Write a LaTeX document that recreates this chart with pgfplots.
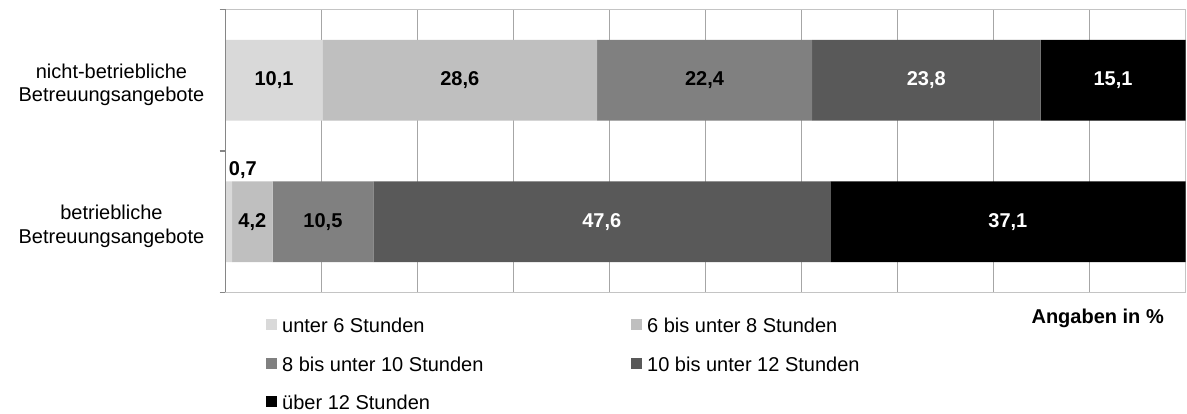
\documentclass[border=0pt]{standalone}
\usepackage{pgfplots}
\usepackage{pgfplotstable}
\pgfplotsset{compat=1.18}
\usepackage{fontspec}
\setmainfont{Liberation Sans}
\definecolor{c1}{HTML}{D9D9D9}
\definecolor{c2}{HTML}{BFBFBF}
\definecolor{c3}{HTML}{808080}
\definecolor{c4}{HTML}{595959}
\definecolor{c5}{HTML}{000000}
\definecolor{cgrid}{HTML}{A6A6A6}
\definecolor{cborder}{HTML}{C4C4C4}
\definecolor{caxis}{HTML}{868686}

% y = 1: nicht-betriebliche, y = 0: betriebliche
\pgfplotstableread{
y v lab dx dy
1 10.1 10,1 0 0
0 0.7 0,7 14 52
}\tA
\pgfplotstableread{
y v lab dx dy
1 28.6 28,6 0 0
0 4.2 4,2 0 0
}\tB
\pgfplotstableread{
y v lab dx dy
1 22.4 22,4 0 0
0 10.5 10,5 0 0
}\tC
\pgfplotstableread{
y v lab dx dy
1 23.8 23,8 0 0
0 47.6 47,6 0 0
}\tD
\pgfplotstableread{
y v lab dx dy
1 15.1 15,1 0 0
0 37.0 37,1 0 0
}\tE

\begin{document}
\begin{tikzpicture}[font=\fontsize{20}{23.7}\selectfont]
\begin{axis}[
  name=ax,
  scale only axis, width=960pt, height=283pt,
  xbar stacked, bar width=0.57,
  xmin=0, xmax=100, ymin=-0.5, ymax=1.5,
  xtick={10,20,...,90}, xticklabels={}, xmajorgrids,
  major grid style={draw=cgrid, line width=1pt},
  ytick={0,1},
  yticklabels={{betriebliche\\Betreuungsangebote},{nicht-betriebliche\\Betreuungsangebote}},
  yticklabel style={align=center, inner sep=0pt, xshift=-21pt, yshift=-4.5pt, font=\fontsize{20}{23.7}\selectfont},
  major tick length=0pt,
  minor ytick={-0.5,0.5,1.5}, minor tick length=6pt, tick align=outside,
  ytick pos=left, xtick pos=bottom,
  minor y tick style={draw=caxis, line width=1.2pt},
  axis line style={draw=cborder, line width=1pt},
  xlabel={Angaben in \%},
  xlabel style={at={(rel axis cs:1,0)}, anchor=base east, xshift=-21.5pt, yshift=-31.5pt, inner sep=0pt, font=\fontsize{20}{24}\selectfont\bfseries},
  point meta=explicit symbolic,
  nodes near coords,
  visualization depends on={\thisrow{dx} \as \dx},
  visualization depends on={\thisrow{dy} \as \dy},
  every node near coord/.append style={anchor=center, inner sep=0pt,
    font=\fontsize{20}{24}\selectfont\bfseries,
    xshift=\dx pt, yshift=\dy pt},
  legend columns=2,
  legend style={at={(rel axis cs:0,0)}, anchor=north west, xshift=40.5pt, yshift=-25.2pt,
    draw=none, fill=none, inner sep=0pt, row sep=19.5pt,
    font=\fontsize{20}{24}\selectfont,
    nodes={inner xsep=0pt, inner ysep=0pt, text height=15pt, text depth=4pt},
    /tikz/every odd column/.append style={column sep=5pt},
    cells={anchor=west}},
  legend image code/.code={\fill[#1] (0pt,-3pt) rectangle (11pt,8pt);},
  after end axis/.code={\draw[caxis, line width=1.6pt] (rel axis cs:0,0) -- (rel axis cs:0,1);},
]
\addplot[fill=c1, draw=none] table[x=v, y=y, meta=lab] {\tA};
\addlegendentry{\makebox[349pt][l]{unter 6 Stunden}}
\addplot[fill=c2, draw=none] table[x=v, y=y, meta=lab] {\tB};
\addlegendentry{6 bis unter 8 Stunden}
\addplot[fill=c3, draw=none] table[x=v, y=y, meta=lab] {\tC};
\addlegendentry{\makebox[349pt][l]{8 bis unter 10 Stunden}}
\addplot[fill=c4, draw=none, every node near coord/.append style={text=white}] table[x=v, y=y, meta=lab] {\tD};
\addlegendentry{10 bis unter 12 Stunden}
\addplot[fill=c5, draw=none, every node near coord/.append style={text=white}] table[x=v, y=y, meta=lab] {\tE};
\addlegendentry{\makebox[349pt][l]{über 12 Stunden}}
\end{axis}
\path (ax.south west) ++(-225.5pt,-119.5pt);
\path (ax.north east) ++(1.5pt,9.5pt);
\end{tikzpicture}
\end{document}
